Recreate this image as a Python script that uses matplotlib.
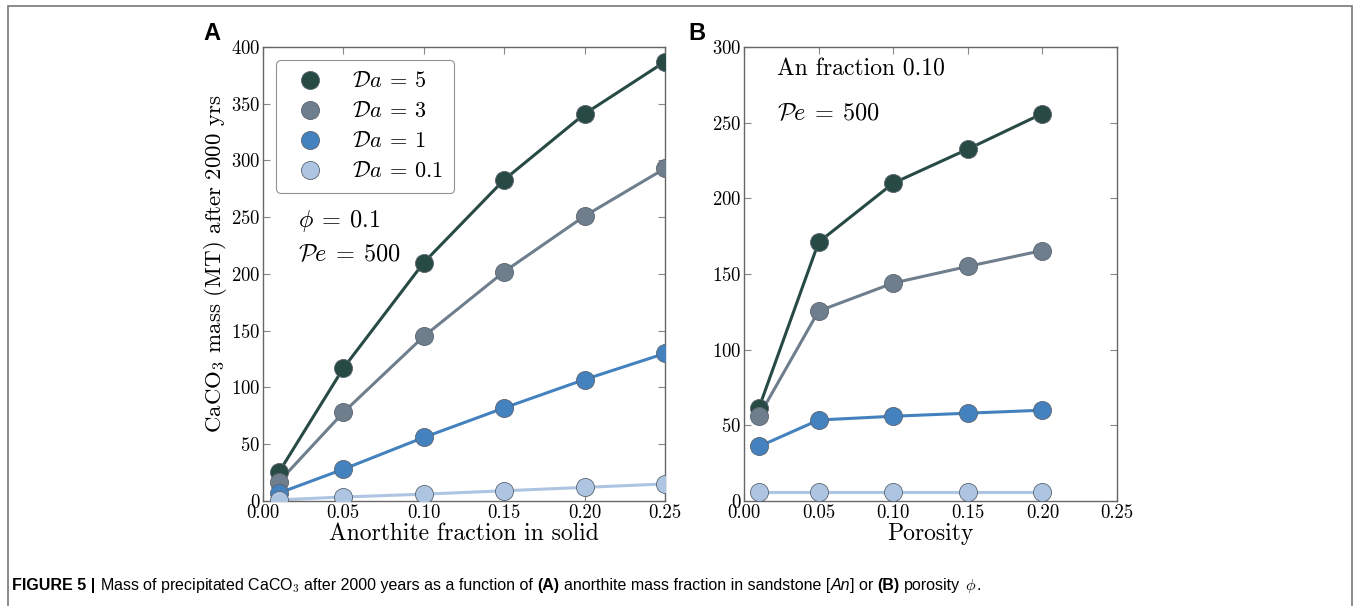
import matplotlib
matplotlib.use('Agg')
import matplotlib.pyplot as plt
from matplotlib.patches import Rectangle

plt.rcParams['font.family'] = 'serif'
plt.rcParams['font.serif'] = ['cmr10']
plt.rcParams['mathtext.fontset'] = 'cm'
plt.rcParams['axes.formatter.use_mathtext'] = True
plt.rcParams['axes.unicode_minus'] = False

# 数据
an_frac = [0.01, 0.05, 0.10, 0.15, 0.20, 0.25]
mass_a_da5 = [25.5, 117, 210, 283, 341, 387]
mass_a_da3 = [17, 78, 145, 202, 251, 293]
mass_a_da1 = [7, 28, 56, 82, 107, 130]
mass_a_da01 = [1, 3.5, 6, 9, 12, 15]

porosity = [0.01, 0.05, 0.10, 0.15, 0.20]
mass_b_da5 = [61.5, 171, 210, 232.5, 256]
mass_b_da3 = [56, 125.5, 144, 155, 165.5]
mass_b_da1 = [36, 53.5, 56, 58, 60]
mass_b_da01 = [6, 6, 6, 6, 6]

labels = [r'$\mathcal{D}a\:=\:5$', r'$\mathcal{D}a\:=\:3$', r'$\mathcal{D}a\:=\:1$', r'$\mathcal{D}a\:=\:0.1$']
colors = ['#284a44', '#6f7e8c', '#4382be', '#aec5e2']
ticks = [0.00, 0.05, 0.10, 0.15, 0.20, 0.25]

fig = plt.figure(figsize=(13.54, 6.06), dpi=100)
ax1 = fig.add_axes([0.1942, 0.1733, 0.2969, 0.7492])
ax2 = fig.add_axes([0.5495, 0.1733, 0.2755, 0.7492])


def draw_series(ax, x, ys):
    for y, c, lab in zip(ys, colors, labels):
        ax.plot(x, y, '-', color=c, lw=2.2, zorder=2)
        ax.plot(x, y, 'o', color=c, ms=13, mec='#5a6470', mew=0.6, label=lab, zorder=3)


def style_axes(ax, ymax, yticks):
    ax.set_xlim(0, 0.25)
    ax.set_ylim(0, ymax)
    ax.set_xticks(ticks)
    ax.set_xticklabels(['%.2f' % t for t in ticks])
    ax.set_yticks(yticks)
    ax.tick_params(direction='in', top=True, right=True, length=5, width=0.8,
                   color='#888888', labelsize=13.5, pad=2)
    for s in ax.spines.values():
        s.set_color('#666666')
        s.set_linewidth(1.0)


draw_series(ax1, an_frac, [mass_a_da5, mass_a_da3, mass_a_da1, mass_a_da01])
style_axes(ax1, 400, range(0, 401, 50))
ax1.set_xlabel('Anorthite fraction in solid', fontsize=17, labelpad=1)
ax1.set_ylabel(r'CaCO$_3$ mass (MT) after 2000 yrs', fontsize=16.5, labelpad=1)
ax1.yaxis.label.set_y(0.522)
ax1.text(0.022, 247, r'$\phi\:=\:0.1$', fontsize=17.5, va='center')
ax1.text(0.022, 217, r'$\mathcal{P}e\:=\:500$', fontsize=17.5, va='center')
leg = ax1.legend(loc='upper left', numpoints=1, fontsize=16, frameon=True,
                 fancybox=True, borderaxespad=0.6, handletextpad=0.9,
                 labelspacing=0.45, borderpad=0.5)
leg.get_frame().set_edgecolor('#777777')
leg.get_frame().set_linewidth(0.8)

draw_series(ax2, porosity, [mass_b_da5, mass_b_da3, mass_b_da1, mass_b_da01])
style_axes(ax2, 300, range(0, 301, 50))
ax2.set_xlabel('Porosity', fontsize=17, labelpad=1)
ax2.text(0.022, 285, 'An fraction 0.10', fontsize=17, va='center')
ax2.text(0.022, 256, r'$\mathcal{P}e\:=\:500$', fontsize=17.5, va='center')

# 面板标签
fig.text(203 / 1354, 1 - 33 / 606, 'A', fontsize=17, fontweight='bold',
         family='Liberation Sans', va='center')
fig.text(688 / 1354, 1 - 33 / 606, 'B', fontsize=17, fontweight='bold',
         family='Liberation Sans', va='center')

# 外框
fig.add_artist(Rectangle((8 / 1354, -0.05), 1344 / 1354, 1.05 - 6 / 606,
                         transform=fig.transFigure, fill=False,
                         edgecolor='#777777', lw=1.2))

# 图注
parts = [('FIGURE 5 |', 'bold', 'normal'), ('Mass of precipitated CaCO$_3$', 'normal', 'normal'),
         ('after 2000 years as a function of', 'normal', 'normal'), ('(A)', 'bold', 'normal'),
         ('anorthite mass fraction in sandstone [', 'normal', 'normal'), ('An', 'normal', 'italic'),
         ('] or', 'normal', 'normal'), ('(B)', 'bold', 'normal'), ('porosity', 'normal', 'normal'),
         (r'$\phi$', 'normal', 'normal'), ('.', 'normal', 'normal')]
gap_after = [True, True, True, True, False, False, True, True, True, False, False]
fig.canvas.draw()
renderer = fig.canvas.get_renderer()
cap_size = 11.5
cap_y = 1 - 590 / 606


def text_w(s):
    t = fig.text(0, 0, s, fontsize=cap_size, family='Liberation Sans')
    w = t.get_window_extent(renderer).width
    t.remove()
    return w


space_w = (text_w('x x') - text_w('xx')) / fig.bbox.width
x = 12 / 1354
for (txt, w, st), gap in zip(parts, gap_after):
    t = fig.text(x, cap_y, txt, fontsize=cap_size, fontweight=w, fontstyle=st,
                 family='Liberation Sans', va='baseline')
    bb = t.get_window_extent(renderer)
    x += bb.width / fig.bbox.width
    if gap:
        x += space_w

fig.savefig('out.png', dpi=100)
